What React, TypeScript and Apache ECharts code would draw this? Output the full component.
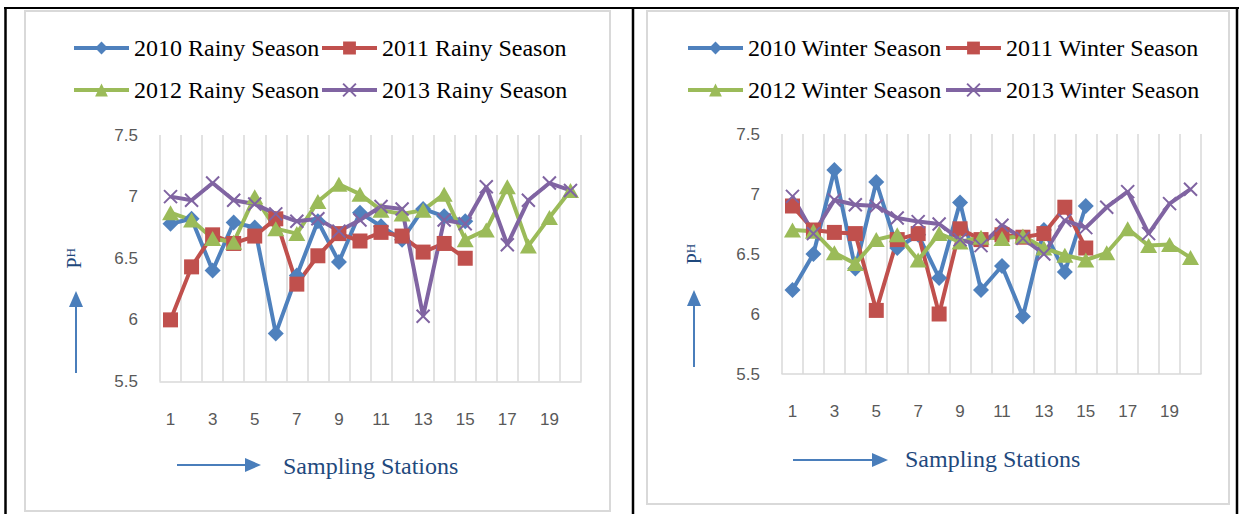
import React, { useEffect, useRef } from "react";
import * as echarts from "echarts";

const stations = ["1","2","3","4","5","6","7","8","9","10","11","12","13","14","15","16","17","18","19","20"];
const yTicks = { min: 5.5, max: 7.5, interval: 0.5 };

const rainy2010 = [6.78, 6.82, 6.40, 6.79, 6.75, 5.89, 6.36, 6.80, 6.47, 6.87, 6.76, 6.65, 6.90, 6.84, 6.80];
const rainy2011 = [6.00, 6.43, 6.69, 6.62, 6.68, 6.82, 6.29, 6.52, 6.70, 6.64, 6.71, 6.68, 6.55, 6.62, 6.50];
const rainy2012 = [6.87, 6.81, 6.66, 6.63, 7.00, 6.74, 6.70, 6.96, 7.10, 7.02, 6.89, 6.86, 6.89, 7.02, 6.65, 6.73, 7.08, 6.60, 6.83, 7.05];
const rainy2013 = [7.00, 6.97, 7.11, 6.97, 6.94, 6.86, 6.80, 6.82, 6.72, 6.81, 6.92, 6.90, 6.03, 6.81, 6.78, 7.08, 6.61, 6.97, 7.11, 7.05];

const winter2010 = [6.20, 6.50, 7.20, 6.38, 7.10, 6.55, 6.66, 6.30, 6.93, 6.20, 6.40, 5.98, 6.70, 6.35, 6.90];
const winter2011 = [6.90, 6.70, 6.68, 6.67, 6.03, 6.62, 6.67, 6.00, 6.71, 6.62, 6.66, 6.64, 6.67, 6.89, 6.55];
const winter2012 = [6.70, 6.69, 6.51, 6.42, 6.62, 6.66, 6.45, 6.67, 6.60, 6.64, 6.63, 6.65, 6.55, 6.49, 6.45, 6.51, 6.71, 6.57, 6.58, 6.47];
const winter2013 = [6.98, 6.67, 6.95, 6.91, 6.90, 6.80, 6.77, 6.75, 6.62, 6.57, 6.74, 6.63, 6.50, 6.78, 6.72, 6.89, 7.02, 6.67, 6.92, 7.04];

const rainyNames = ["2010 Rainy Season", "2011 Rainy Season", "2012 Rainy Season", "2013 Rainy Season"];
const winterNames = ["2010 Winter Season", "2011 Winter Season", "2012 Winter Season", "2013 Winter Season"];

const COLORS = ["#4F81BD", "#C0504D", "#9BBB59", "#8064A2"];
const SYMBOLS = ["diamond", "rect", "triangle", "path://M0,0L10,10M10,0L0,10"];
const SIZES: any[] = [16, 15, [17, 15], 13];
const SERIF = "'Liberation Serif', 'Times New Roman', serif";
const SANS = "'Liberation Sans', Arial, sans-serif";
const DARKBLUE = "#1F497D";
const ARROW = "#4A7EBB";

function mkSeries(name: string, data: number[], idx: number, g: number) {
  return {
    type: "line",
    name,
    data,
    xAxisIndex: g,
    yAxisIndex: g,
    symbol: SYMBOLS[idx],
    symbolSize: SIZES[idx],
    showAllSymbol: true,
    lineStyle: { color: COLORS[idx], width: 4 },
    itemStyle: idx === 3
      ? { color: COLORS[idx], borderColor: COLORS[idx], borderWidth: 2 }
      : { color: COLORS[idx] },
    emphasis: { disabled: true },
  };
}

function mkXAxis(g: number) {
  return {
    type: "category",
    gridIndex: g,
    data: stations,
    boundaryGap: true,
    axisTick: { show: false },
    axisLine: { show: true, lineStyle: { color: "#D9D9D9", width: 1.5 } },
    splitLine: { show: true, interval: 0, lineStyle: { color: "#D9D9D9", width: 1.5 } },
    axisLabel: { interval: 1, margin: 29, color: "#595959", fontFamily: SANS, fontSize: 17 },
  };
}

function mkYAxis(g: number, gap: number) {
  return {
    type: "value",
    gridIndex: g,
    min: yTicks.min,
    max: yTicks.max,
    interval: yTicks.interval,
    splitLine: { show: false },
    axisLine: { show: false },
    axisTick: { show: false },
    axisLabel: { margin: 22, color: "#595959", fontFamily: SANS, fontSize: 17 },
    name: "{p|P}{h|H}",
    nameLocation: "middle",
    nameRotate: 90,
    nameGap: gap,
    nameTextStyle: {
      rich: {
        p: { fontFamily: SERIF, fontSize: 20, color: DARKBLUE, lineHeight: 20 },
        h: { fontFamily: SERIF, fontSize: 13, color: DARKBLUE, verticalAlign: "top", lineHeight: 20 },
      },
    },
  };
}

function mkLegend(name: string, left: number, top: number) {
  return {
    data: [name],
    left,
    top,
    padding: 0,
    itemWidth: 55,
    itemHeight: 16,
    selectedMode: false,
    lineStyle: { width: 4 },
    textStyle: { fontFamily: SERIF, fontSize: 24, color: "#000" },
  };
}

function hArrow(x1: number, x2: number, y: number) {
  return [
    { type: "line", shape: { x1, y1: y, x2: x2 - 14, y2: y }, style: { stroke: ARROW, lineWidth: 2 } },
    { type: "polygon", shape: { points: [[x2 - 16, y - 7], [x2, y], [x2 - 16, y + 7]] }, style: { fill: ARROW } },
  ];
}
function vArrow(x: number, y1: number, y2: number) {
  return [
    { type: "line", shape: { x1: x, y1, x2: x, y2: y2 + 14 }, style: { stroke: ARROW, lineWidth: 2 } },
    { type: "polygon", shape: { points: [[x - 7, y2 + 16], [x, y2], [x + 7, y2 + 16]] }, style: { fill: ARROW } },
  ];
}

export default function App() {
  const ref = useRef<HTMLDivElement>(null);
  useEffect(() => {
    const chart = echarts.init(ref.current!, null, { renderer: "svg" });
    const option: any = {
      animation: false,
      backgroundColor: "#fff",
      grid: [
        { left: 160, top: 135, width: 421, height: 246.5 },
        { left: 782, top: 134, width: 419, height: 240 },
      ],
      xAxis: [mkXAxis(0), mkXAxis(1)],
      yAxis: [mkYAxis(0, 76), mkYAxis(1, 78)],
      legend: [
        mkLegend(rainyNames[0], 72, 36),
        mkLegend(rainyNames[1], 320, 36),
        mkLegend(rainyNames[2], 72, 78),
        mkLegend(rainyNames[3], 320, 78),
        mkLegend(winterNames[0], 686, 36),
        mkLegend(winterNames[1], 944, 36),
        mkLegend(winterNames[2], 686, 78),
        mkLegend(winterNames[3], 944, 78),
      ],
      series: [
        mkSeries(rainyNames[0], rainy2010, 0, 0),
        mkSeries(rainyNames[1], rainy2011, 1, 0),
        mkSeries(rainyNames[2], rainy2012, 2, 0),
        mkSeries(rainyNames[3], rainy2013, 3, 0),
        mkSeries(winterNames[0], winter2010, 0, 1),
        mkSeries(winterNames[1], winter2011, 1, 1),
        mkSeries(winterNames[2], winter2012, 2, 1),
        mkSeries(winterNames[3], winter2013, 3, 1),
      ],
      graphic: [
        { type: "rect", shape: { x: 25, y: 11, width: 585, height: 500 }, style: { fill: "none", stroke: "#D9D9D9", lineWidth: 2 }, z: -1 },
        { type: "rect", shape: { x: 647, y: 11, width: 582, height: 493 }, style: { fill: "none", stroke: "#D9D9D9", lineWidth: 2 }, z: -1 },
        { type: "line", shape: { x1: 4, y1: 8, x2: 1239, y2: 8 }, style: { stroke: "#000", lineWidth: 2 } },
        { type: "line", shape: { x1: 5.5, y1: 8, x2: 5.5, y2: 514 }, style: { stroke: "#000", lineWidth: 2.5 } },
        { type: "line", shape: { x1: 633, y1: 8, x2: 633, y2: 514 }, style: { stroke: "#000", lineWidth: 2.5 } },
        { type: "line", shape: { x1: 1237, y1: 8, x2: 1237, y2: 514 }, style: { stroke: "#000", lineWidth: 2.5 } },
        ...hArrow(177, 261, 465),
        ...hArrow(793, 888, 460),
        ...vArrow(76, 373, 291),
        ...vArrow(694, 367, 290),
        { type: "text", x: 283, y: 466, style: { text: "Sampling Stations", fontFamily: SERIF, fontSize: 24, fill: DARKBLUE, verticalAlign: "middle" } },
        { type: "text", x: 905, y: 459, style: { text: "Sampling Stations", fontFamily: SERIF, fontSize: 24, fill: DARKBLUE, verticalAlign: "middle" } },
      ],
    };
    chart.setOption(option);
    return () => chart.dispose();
  }, []);
  return <div ref={ref} style={{ position: "fixed", left: 0, top: 0, width: 1239, height: 514, background: "#fff" }} />;
}
